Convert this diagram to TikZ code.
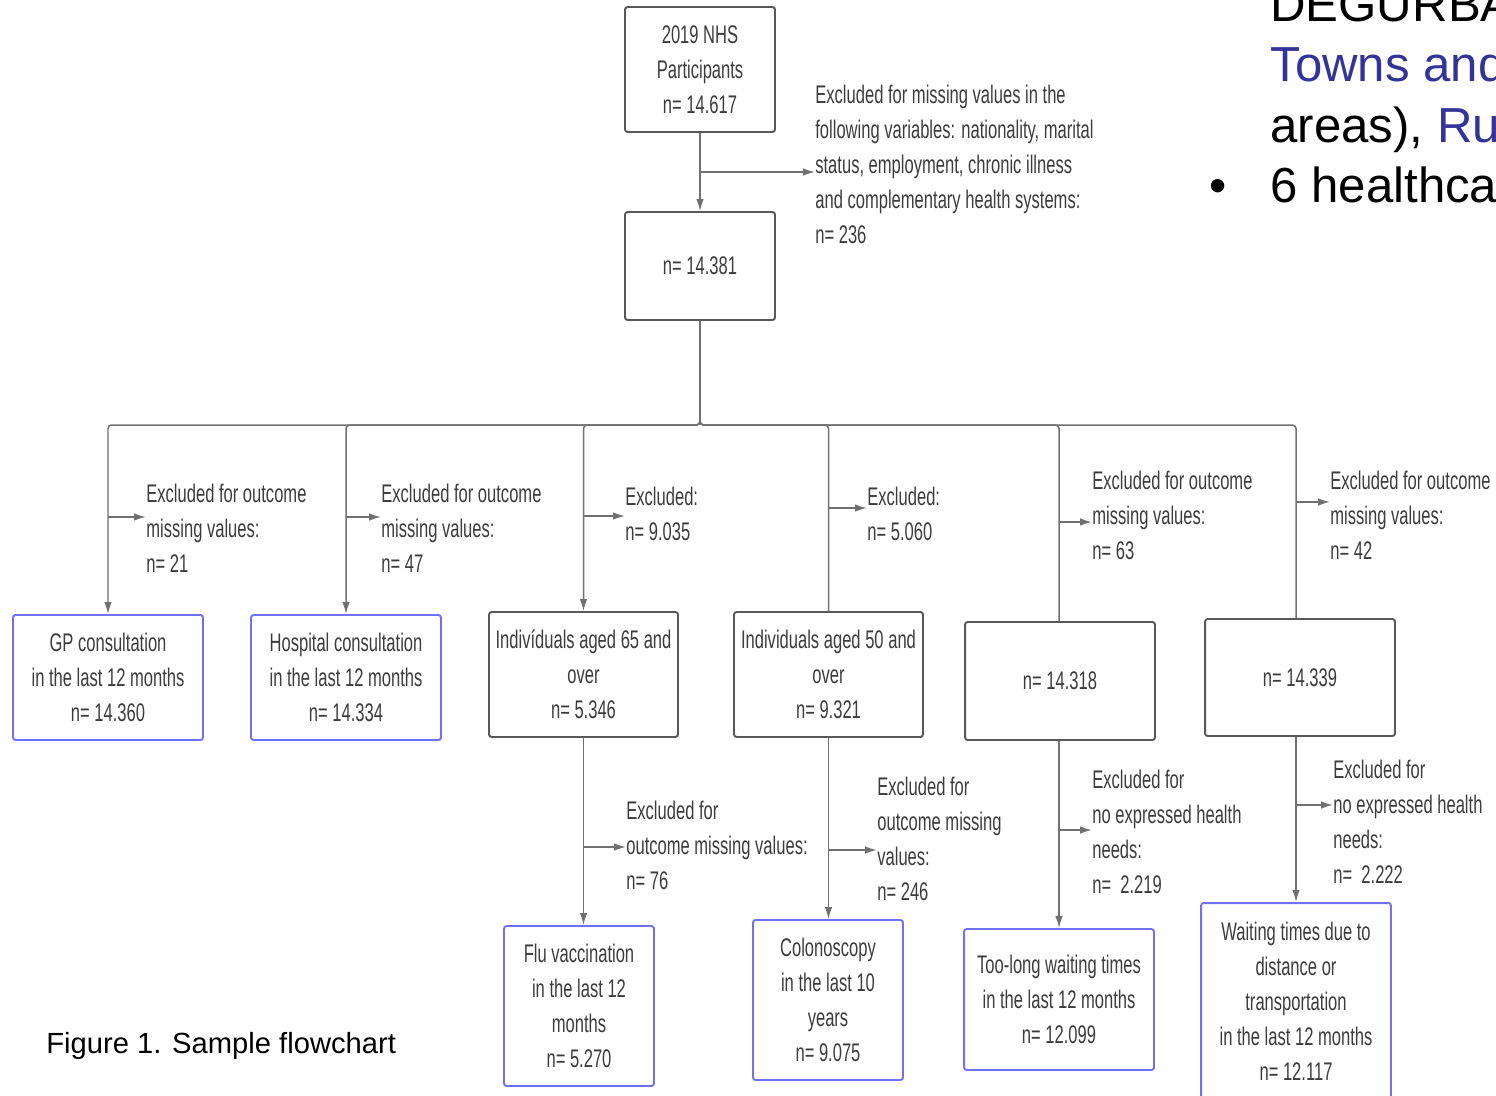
\documentclass[tikz,border=0pt]{standalone}
\usepackage{fontspec}
\setmainfont{Liberation Sans}
\newfontfamily\narrowsans[FakeStretch=0.65]{Liberation Sans}
\usetikzlibrary{calc,arrows.meta}
\definecolor{txtgray}{RGB}{60,60,60}
\definecolor{linegray}{RGB}{112,112,112}
\definecolor{boxgray}{RGB}{88,88,88}
\definecolor{outblue}{RGB}{112,112,255}
\definecolor{slideblue}{RGB}{51,51,153}
\newcommand{\flowfont}{\narrowsans\fontsize{14.5}{19.9}\selectfont}

\begin{document}
\begin{tikzpicture}[x=0.02cm,y=-0.02cm,
  box/.style={draw=boxgray, line width=1.1pt, rounded corners=1.5pt, minimum width=3.8cm,
    minimum height=2.5cm, align=center, text=txtgray, font=\flowfont, inner sep=0pt},
  outbox/.style={box, draw=outblue},
  excl/.style={anchor=north west, align=left, inner sep=0pt, text=txtgray, font=\flowfont},
  conn/.style={draw=linegray, line width=0.85pt},
  arr/.style={conn, -{Latex[length=2.4mm,width=1.5mm]}}]

\useasboundingbox (0,0) rectangle (1496,1095);
\clip (0,0) rectangle (1496,1095);

% top of the chart
\node[box, minimum width=3cm] (start) at (700,69.5) {2019 NHS\\Participants\\n= 14.617};
\node[box, minimum width=3cm, minimum height=2.16cm] (n1) at (700,266) {n= 14.381};
\node[excl] (excl0) at (815,85) {Excluded for missing values in the\\following variables: nationality, marital\\status, employment, chronic illness\\and complementary health systems:\\n= 236};

\coordinate (s0) at (700,172);
\draw[arr] (start.south) -- (n1.north);
\draw[arr] (s0) -- (s0 -| excl0.west);

% first row
\node[outbox] (gp) at (108,677.5) {GP consultation\\in the last 12 months\\n= 14.360};
\node[outbox] (hosp) at (346,677.5) {Hospital consultation\\in the last 12 months\\n= 14.334};
\node[box, minimum width=3.78cm] (age65) at (583.5,674.5) {Indivíduals aged 65 and\\over\\n= 5.346};
\node[box, minimum width=3.78cm] (age50) at (828.5,674.5) {Individuals aged 50 and\\over\\n= 9.321};
\node[box, minimum height=2.36cm] (nA) at (1060,681) {n= 14.318};
\node[box, minimum height=2.34cm] (nB) at (1300,677.5) {n= 14.339};

\coordinate (bus) at (700,425);
\coordinate (colA) at (1059,425);
\coordinate (colB) at (1296,425);

\draw[arr, rounded corners=2pt] (n1.south) -- (bus) -| (gp.north);
\draw[arr, rounded corners=2pt] (n1.south) -- (bus) -| (hosp.north);
\draw[arr, rounded corners=2pt] (n1.south) -- (bus) -| (age65.north);
\draw[conn, rounded corners=2pt] (n1.south) -- (bus) -| (age50.north);
\draw[conn, rounded corners=2pt] (n1.south) -- (bus) -| (colA |- nA.north);
\draw[conn, rounded corners=2pt] (n1.south) -- (bus) -| (colB |- nB.north);

\node[excl] (e1) at (146,484) {Excluded for outcome\\missing values:\\n= 21};
\node[excl] (e2) at (381,484) {Excluded for outcome\\missing values:\\n= 47};
\node[excl] (e3) at (625,487) {Excluded:\\n= 9.035};
\node[excl] (e4) at (867,487) {Excluded:\\n= 5.060};
\node[excl] (e5) at (1092,471) {Excluded for outcome\\missing values:\\n= 63};
\node[excl] (e6) at (1330,471) {Excluded for outcome\\missing values:\\n= 42};

\coordinate (j1) at (108,517);
\coordinate (j2) at (346,517);
\coordinate (j3) at (584,516);
\coordinate (j4) at (828,508);
\coordinate (j5) at (1059,522);
\coordinate (j6) at (1296,502);
\draw[arr] (j1) -- (j1 -| e1.west);
\draw[arr] (j2) -- (j2 -| e2.west);
\draw[arr] (j3) -- (j3 -| e3.west);
\draw[arr] (j4) -- (j4 -| e4.west);
\draw[arr] (j5) -- (j5 -| e5.west);
\draw[arr] (j6) -- (j6 -| e6.west);

% second row
\node[outbox, minimum width=3cm, minimum height=3.2cm] (flu) at (579,1006) {Flu vaccination\\in the last 12\\months\\n= 5.270};
\node[outbox, minimum width=3cm, minimum height=3.2cm] (colon) at (828,1000) {Colonoscopy\\in the last 10\\years\\n= 9.075};
\node[outbox, minimum height=2.82cm] (toolong) at (1059,999.5) {Too-long waiting times\\in the last 12 months\\n= 12.099};
\node[outbox, minimum height=3.92cm] (wait) at (1296,1001) {Waiting times due to\\distance or\\transportation\\in the last 12 months\\n= 12.117};

\draw[arr] (age65.south) -- (age65.south |- flu.north);
\draw[arr] (age50.south) -- (age50.south |- colon.north);
\draw[arr] (colA |- nA.south) -- (colA |- toolong.north);
\draw[arr] (colB |- nB.south) -- (colB |- wait.north);

\node[excl] (f1) at (626,801) {Excluded for\\outcome missing values:\\n= 76};
\node[excl] (f2) at (877,777) {Excluded for\\outcome missing\\values:\\n= 246};
\node[excl] (f3) at (1092,770) {Excluded for\\no expressed health\\needs:\\n=\ \ 2.219};
\node[excl] (f4) at (1333,760) {Excluded for\\no expressed health\\needs:\\n=\ \ 2.222};

\coordinate (k1) at (584,847);
\coordinate (k2) at (828,850);
\coordinate (k3) at (1059,830);
\coordinate (k4) at (1296,805);
\draw[arr] (k1) -- (k1 -| f1.west);
\draw[arr] (k2) -- (k2 -| f2.west);
\draw[arr] (k3) -- (k3 -| f3.west);
\draw[arr] (k4) -- (k4 -| f4.west);

% caption and slide text behind
\node[anchor=base west, inner sep=0pt, font=\fontsize{16.6}{20}\selectfont] (caption) at (46,1053) {Figure 1. Sample flowchart};

\node[anchor=base west, inner sep=0pt, font=\fontsize{28}{34}\selectfont] (deg) at (1270,22) {DEGURBA};
\node[anchor=base west, inner sep=0pt, font=\fontsize{28}{34}\selectfont, text=slideblue] (towns) at (1270,82) {Towns and};
\node[anchor=base west, inner sep=0pt, font=\fontsize{28}{34}\selectfont] (areas) at (1270,142) {areas), \textcolor{slideblue}{Ru}};
\node[anchor=base west, inner sep=0pt, font=\fontsize{28}{34}\selectfont] (bullet) at (1209,202) {•};
\node[anchor=base west, inner sep=0pt, font=\fontsize{28}{34}\selectfont] (hc) at (1270,202) {6 healthca};

\end{tikzpicture}
\end{document}
